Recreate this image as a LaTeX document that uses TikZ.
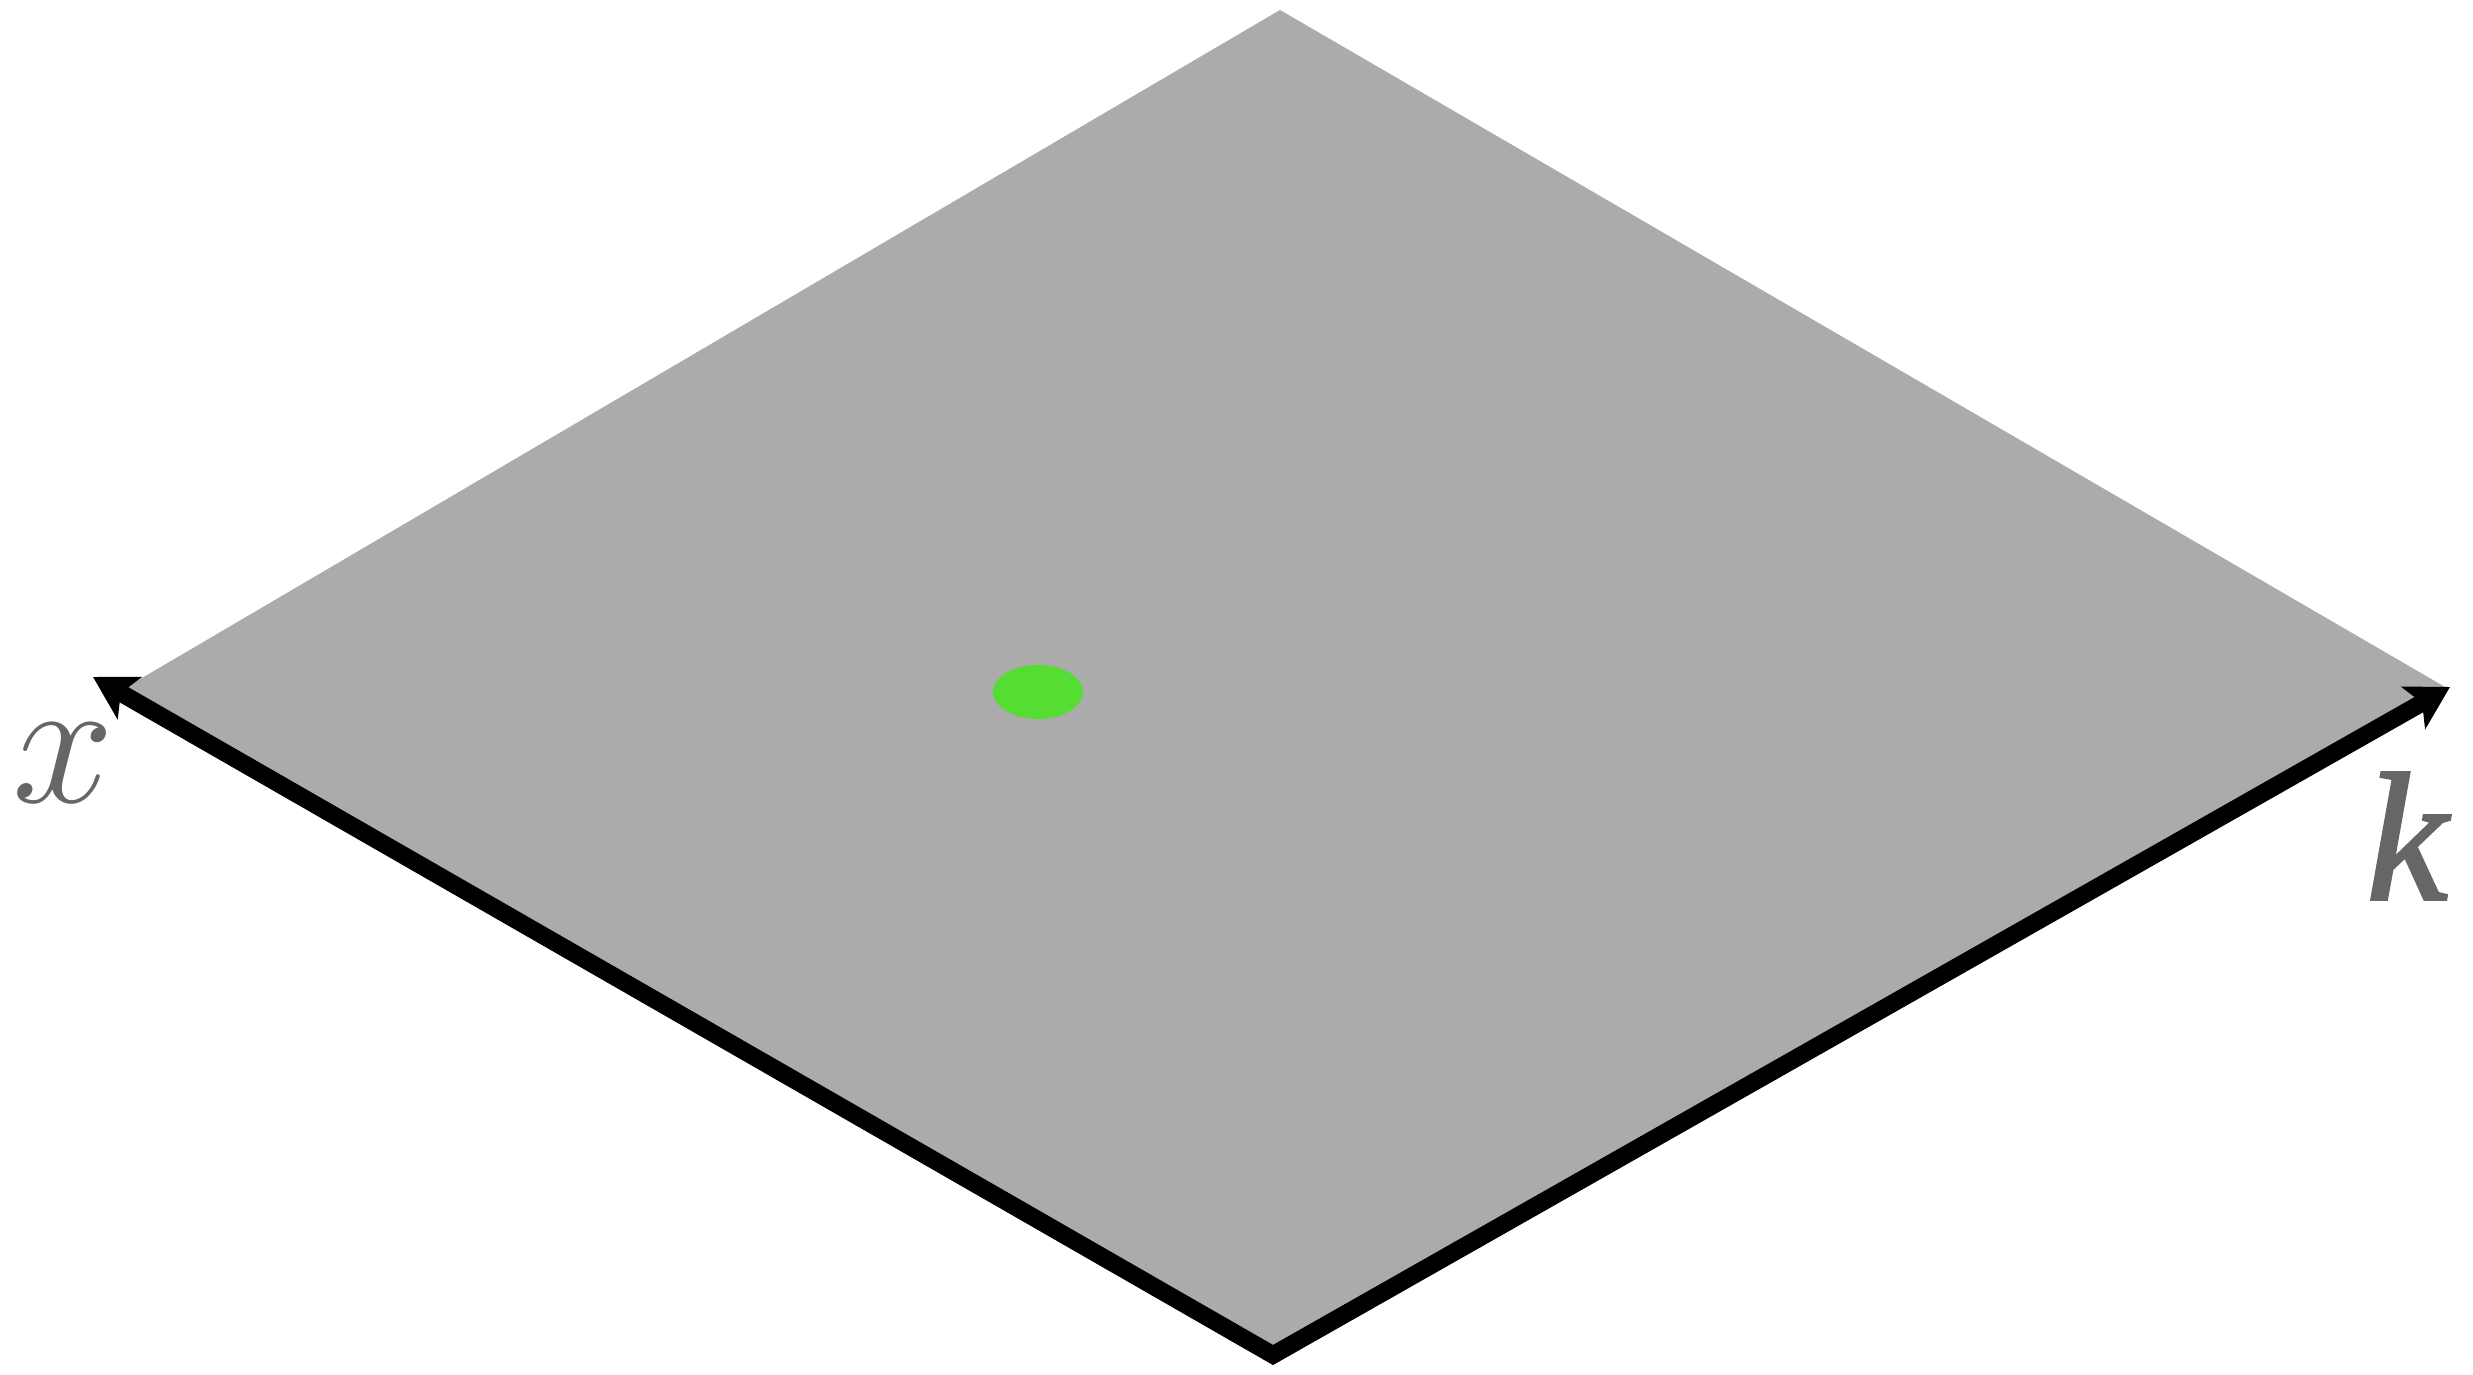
\RequirePackage{fix-cm}
\documentclass[tikz,border=0pt]{standalone}
\usepackage{fontspec}
\setmainfont{Liberation Serif}
\newfontfamily\kfont{Liberation Serif}[ItalicFeatures={FakeBold=1.6}]
\usetikzlibrary{arrows.meta,shapes.geometric}
\definecolor{plane}{HTML}{ABABAB}
\definecolor{dot}{HTML}{55DD33}
\definecolor{lbl}{HTML}{666666}
\begin{document}
\begin{tikzpicture}[
  axis/.style={line width=0.175cm, line join=miter, {Stealth[length=0.42cm,width=0.48cm,inset=0.1cm]}-{Stealth[length=0.42cm,width=0.48cm,inset=0.1cm]}},
  lab/.style={text=lbl, font=\fontsize{52}{60}\selectfont, inner sep=0pt}
]
\useasboundingbox (0,0) rectangle (24.73,13.75);
\coordinate (T) at (12.80,13.65);
\coordinate (L) at (1.25,6.87);
\coordinate (R) at (24.45,6.88);
\coordinate (B) at (12.73,0.22);
\fill[plane] (T) -- (L) -- (B) -- (R) -- cycle;
\node[ellipse, fill=dot, minimum width=0.9cm, minimum height=0.54cm, inner sep=0pt] (d) at (10.38,6.83) {};
\coordinate (O) at (12.73,0.20);
\coordinate (X) at (0.93,6.98);
\coordinate (K) at (24.50,6.88);
\draw[axis] (X) -- (O) -- (K);
\node[lab] (xl) at (0.63,6.12) {$x$};
\node[lab] (kl) at (24.07,5.39) {\kfont\itshape k};
\end{tikzpicture}
\end{document}
